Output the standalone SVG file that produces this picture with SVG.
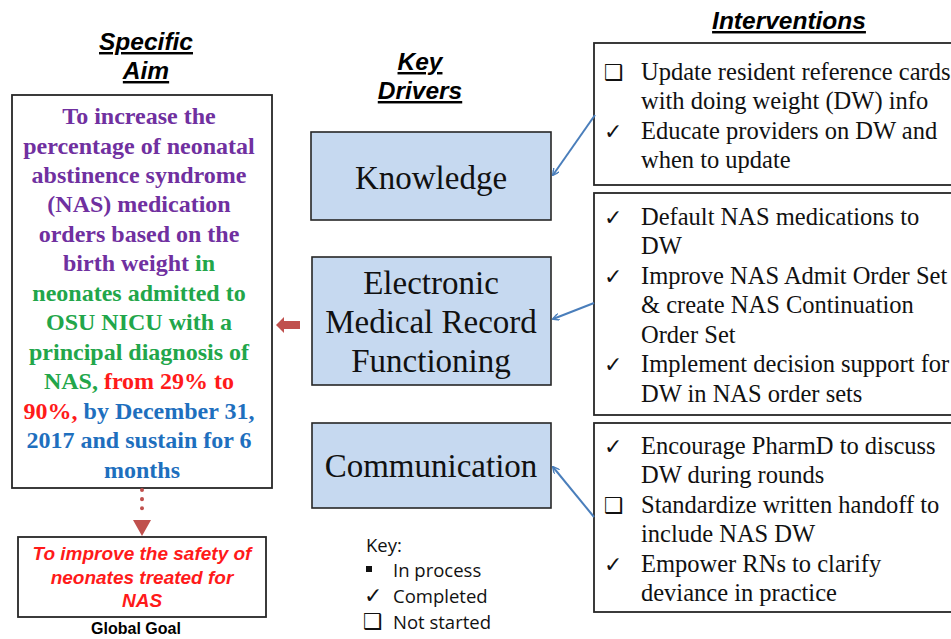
<svg xmlns="http://www.w3.org/2000/svg" width="951" height="639" viewBox="0 0 951 639">
<style>
.title{font-family:"Liberation Sans",Arial,sans-serif;font-weight:bold;font-style:italic;font-size:24.5px;text-decoration:underline;fill:#000;text-anchor:middle}
.aim{font-family:"Liberation Serif","Times New Roman",serif;font-weight:bold;font-size:24px;text-anchor:middle}
.pu{fill:#7030a0}.gr{fill:#22a64a}.rd{fill:#ff1a1a}.bl{fill:#1e6fbe}
.drv{fill:#c6d9f0;stroke:#262626;stroke-width:1.6}
.drvt{font-family:"Liberation Serif","Times New Roman",serif;font-size:33px;fill:#111;text-anchor:middle}
.box{fill:#fff;stroke:#262626;stroke-width:1.8}
.it{font-family:"Liberation Serif","Times New Roman",serif;font-size:24.5px;fill:#111}
.sym{font-family:"DejaVu Sans",sans-serif;font-size:22px;fill:#111}
.goal{font-family:"Liberation Sans",Arial,sans-serif;font-weight:bold;font-style:italic;font-size:19px;fill:#ff1a1a;text-anchor:middle}
.key{font-family:"Open Sans","Liberation Sans",sans-serif;font-size:18.5px;fill:#111}
.conn{stroke:#4a7ebb;stroke-width:2;fill:none;marker-end:url(#ba)}
</style>
<defs>
<marker id="ba" viewBox="0 0 10 10" refX="9" refY="5" markerWidth="7" markerHeight="7" orient="auto" markerUnits="userSpaceOnUse">
<path d="M0,0 L10,5 L0,10" fill="none" stroke="#4a7ebb" stroke-width="2"/>
</marker>
</defs>
<rect width="951" height="639" fill="#fff"/>

<g id="titles">
<text class="title" x="146" y="50">Specific</text>
<text class="title" x="146" y="79">Aim</text>
<text class="title" x="420" y="70">Key</text>
<text class="title" x="420" y="99">Drivers</text>
<text class="title" x="789" y="29">Interventions</text>
</g>

<g id="aim">
<rect class="box" x="12" y="95" width="260" height="393"/>
<text class="aim" x="142">
<tspan class="pu" x="142" y="124">To increase the</tspan>
<tspan class="pu" x="142" y="154">percentage of neonatal</tspan>
<tspan class="pu" x="142" y="183">abstinence syndrome</tspan>
<tspan class="pu" x="142" y="212">(NAS) medication</tspan>
<tspan class="pu" x="142" y="242">orders based on the</tspan>
<tspan x="142" y="271"><tspan class="pu">birth weight </tspan><tspan class="gr">in</tspan></tspan>
<tspan class="gr" x="142" y="301">neonates admitted to</tspan>
<tspan class="gr" x="142" y="330">OSU NICU with a</tspan>
<tspan class="gr" x="142" y="360">principal diagnosis of</tspan>
<tspan x="142" y="389"><tspan class="gr">NAS, </tspan><tspan class="rd">from 29% to</tspan></tspan>
<tspan x="142" y="419"><tspan class="rd">90%,</tspan><tspan class="bl"> by December 31,</tspan></tspan>
<tspan class="bl" x="142" y="448">2017 and sustain for 6</tspan>
<tspan class="bl" x="142" y="478">months</tspan>
</text>
</g>

<g id="goal">
<rect class="box" x="18" y="537" width="248" height="80"/>
<text class="goal" x="142" y="560">To improve the safety of</text>
<text class="goal" x="142" y="584">neonates treated for</text>
<text class="goal" x="142" y="607">NAS</text>
<text x="136" y="634" font-family="Liberation Sans,Arial,sans-serif" font-weight="bold" font-size="16" text-anchor="middle" fill="#000">Global Goal</text>
</g>

<g id="knowledge">
<rect class="drv" x="311" y="132" width="240" height="88"/>
<text class="drvt" x="431" y="189">Knowledge</text>
</g>
<g id="emr">
<rect class="drv" x="312" y="257" width="239" height="128"/>
<text class="drvt" x="431" y="294">Electronic</text>
<text class="drvt" x="431" y="333">Medical Record</text>
<text class="drvt" x="431" y="372">Functioning</text>
</g>
<g id="communication">
<rect class="drv" x="312" y="423" width="239" height="85"/>
<text class="drvt" x="431" y="477">Communication</text>
</g>

<g id="int1">
<rect class="box" x="594" y="43" width="370" height="142"/>
<text class="sym" x="604" y="80" font-size="24">❑</text>
<text class="it" x="641" y="80">Update resident reference cards</text>
<text class="it" x="641" y="109">with doing weight (DW) info</text>
<text class="sym" x="604" y="139">✓</text>
<text class="it" x="641" y="139">Educate providers on DW and</text>
<text class="it" x="641" y="168">when to update</text>
</g>
<g id="int2">
<rect class="box" x="594" y="193" width="370" height="222"/>
<text class="sym" x="604" y="225">✓</text>
<text class="it" x="641" y="225">Default NAS medications to</text>
<text class="it" x="641" y="254">DW</text>
<text class="sym" x="604" y="284">✓</text>
<text class="it" x="641" y="284">Improve NAS Admit Order Set</text>
<text class="it" x="641" y="313">&amp; create NAS Continuation</text>
<text class="it" x="641" y="343">Order Set</text>
<text class="sym" x="604" y="372">✓</text>
<text class="it" x="641" y="372">Implement decision support for</text>
<text class="it" x="641" y="402">DW in NAS order sets</text>
</g>
<g id="int3">
<rect class="box" x="594" y="423" width="370" height="189"/>
<text class="sym" x="604" y="454">✓</text>
<text class="it" x="641" y="454">Encourage PharmD to discuss</text>
<text class="it" x="641" y="483">DW during rounds</text>
<text class="sym" x="604" y="513" font-size="24">❑</text>
<text class="it" x="641" y="513">Standardize written handoff to</text>
<text class="it" x="641" y="542">include NAS DW</text>
<text class="sym" x="604" y="572">✓</text>
<text class="it" x="641" y="572">Empower RNs to clarify</text>
<text class="it" x="641" y="601">deviance in practice</text>
</g>

<g id="key">
<text class="key" x="366" y="552" font-size="13">Key:</text>
<rect x="366" y="566" width="6" height="6" fill="#111"/>
<text class="key" x="393" y="577">In process</text>
<text class="sym" x="364" y="603" font-size="18">✓</text>
<text class="key" x="393" y="603">Completed</text>
<text class="sym" x="363" y="629" font-size="19">❑</text>
<text class="key" x="393" y="629">Not started</text>
</g>

<g id="connectors">
<path class="conn" d="M595,115 L553,175"/>
<path class="conn" d="M594,303 L553,319"/>
<path class="conn" d="M594,517 L553,467"/>
<path d="M276,325 L284,317 L284,321 L300,321 L300,329 L284,329 L284,333 Z" fill="#c0504d"/>
<path d="M142,490 L142,516" stroke="#c0504d" stroke-width="4" stroke-dasharray="0.1 9" stroke-linecap="round" fill="none"/>
<path d="M133,520 L151,520 L142,536 Z" fill="#c0504d"/>
</g>
</svg>
